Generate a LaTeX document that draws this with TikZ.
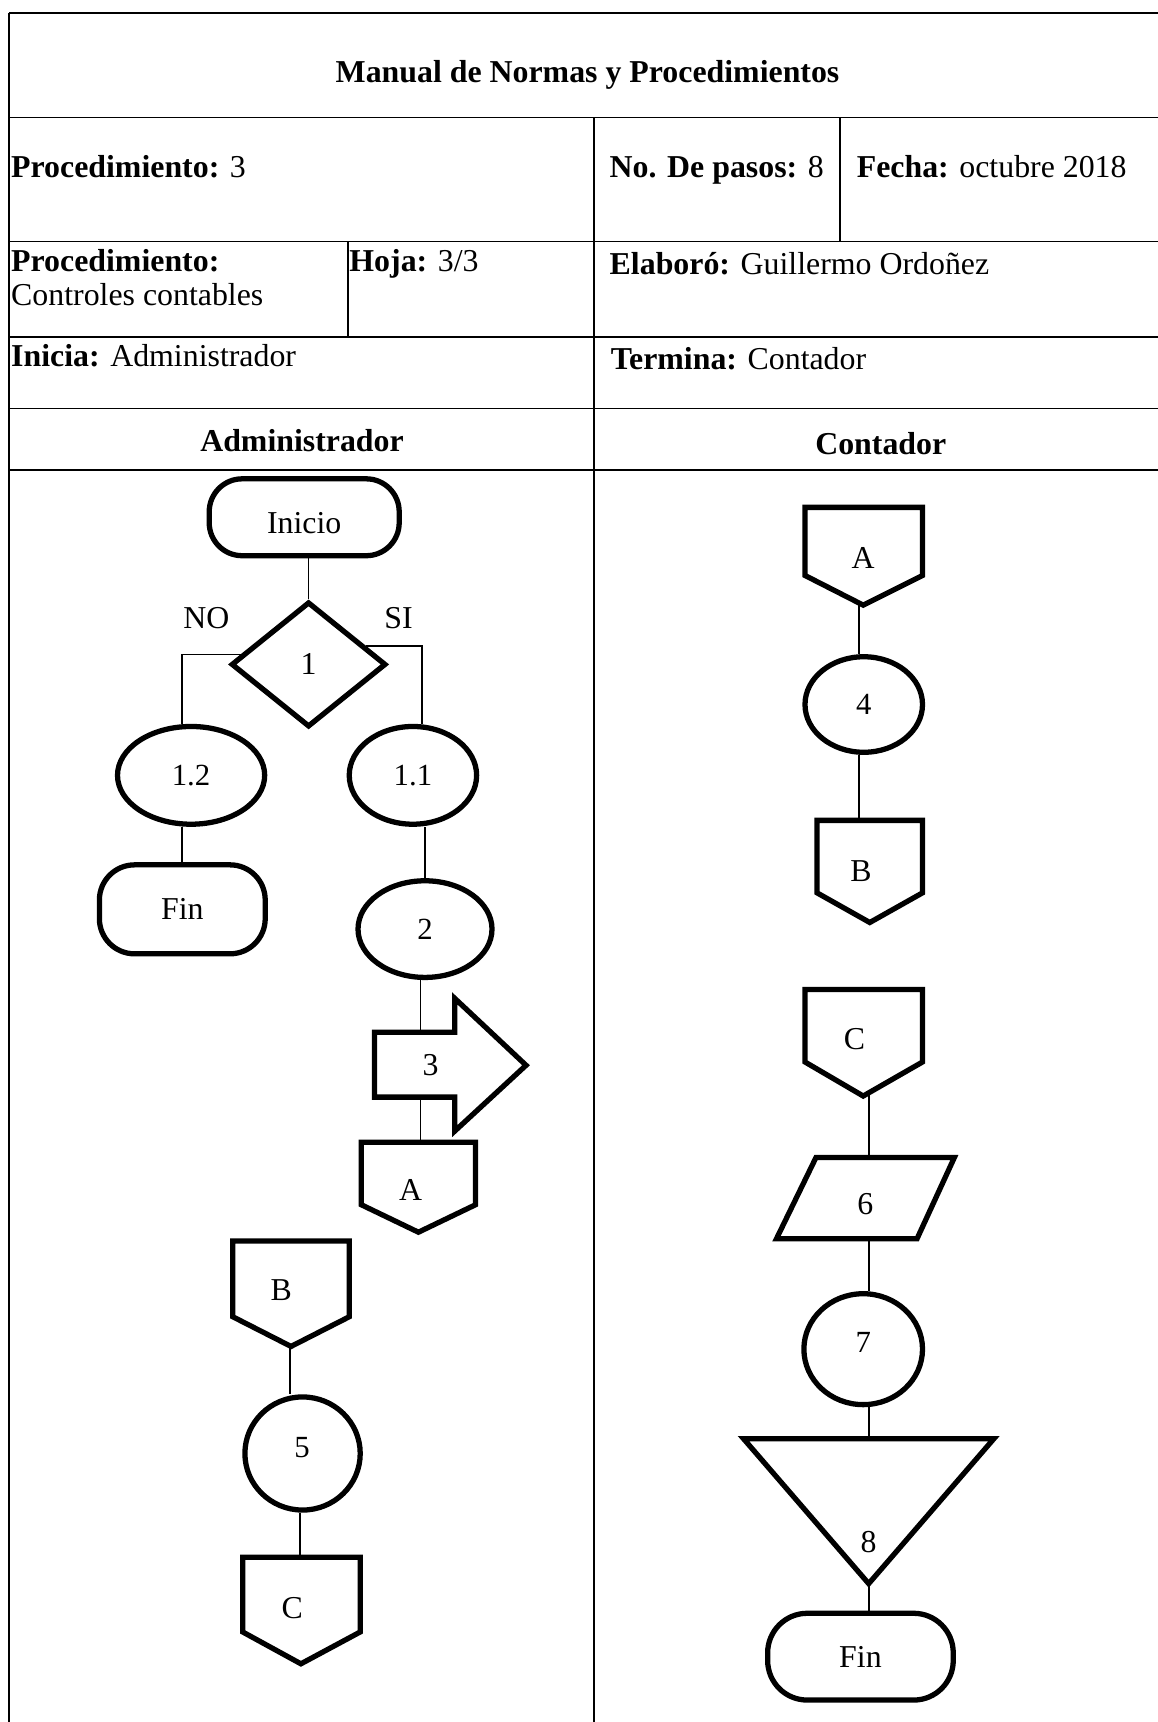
\documentclass[tikz,border=0pt]{standalone}
\usepackage{fontspec}
\setmainfont{Liberation Serif}
\usetikzlibrary{shapes.geometric,calc}
\begin{document}
\begin{tikzpicture}[x=1pt,y=-1pt,
  txt/.style={font=\fontsize{29}{32}\selectfont, inner sep=0pt},
  hd/.style={txt, anchor=base west},
  grid/.style={line width=1.6pt},
  shp/.style={draw, line width=4.8pt, fill=white, line join=miter},
  conn/.style={line width=1.5pt},
  ell/.style={shp, ellipse, inner sep=0pt, font=\fontsize{28}{30}\selectfont},
  term/.style={shp, rectangle, txt},
]
\useasboundingbox (0,0) rectangle (1054,1568);
% ---------- table ----------
\draw[grid] (8,12) -- (1054,12);
\draw[grid] (8,12) -- (8,1568);
\draw[grid] (8,107) -- (1054,107);
\draw[grid] (8,220) -- (1054,220);
\draw[grid] (8,307) -- (1054,307);
\draw[grid] (8,372) -- (1054,372);
\draw[grid] (8,428) -- (1054,428);
\draw[grid] (541,107) -- (541,1568);
\draw[grid] (765,107) -- (765,220);
\draw[grid] (317,220) -- (317,307);
% ---------- header texts ----------
\node[txt, anchor=base] (title) at (535,75) {\textbf{Manual de Normas y Procedimientos}};
\node[hd] (proc) at (10,162) {\textbf{Procedimiento:} 3};
\node[hd] (pasos) at (555,162) {\textbf{No. De pasos:} 8};
\node[hd] (fecha) at (780,162) {\textbf{Fecha:} octubre 2018};
\node[hd] (proc2) at (10,247) {\textbf{Procedimiento:}};
\node[hd] (ctrl) at (10,278) {Controles contables};
\node[hd] (hoja) at (318,247) {\textbf{Hoja:} 3/3};
\node[hd] (elab) at (555,250) {\textbf{Elaboró:} Guillermo Ordoñez};
\node[hd] (ini) at (10,334) {\textbf{Inicia:} Administrador};
\node[hd] (term) at (556,336) {\textbf{Termina:} Contador};
\node[txt, anchor=base] (ladm) at (275,411) {\textbf{Administrador}};
\node[txt, anchor=base] (lcont) at (802,414) {\textbf{Contador}};
% ---------- left lane nodes ----------
\node[term, rounded corners=30pt, minimum width=173pt, minimum height=70pt] (inicio) at (277,471) {};
\node[txt] (inicioT) at (277,476) {Inicio};
\node[shp, diamond, txt, minimum width=141pt, minimum height=114pt] (d1) at (281,605) {1};
\node[txt] (no) at (188,563) {NO};
\node[txt] (si) at (363,563) {SI};
\node[ell, minimum width=134pt, minimum height=89pt] (e12) at (174,706) {1.2};
\node[ell, minimum width=116pt, minimum height=89pt] (e11) at (376,706) {1.1};
\node[term, rounded corners=32pt, minimum width=151pt, minimum height=81pt] (fin1) at (166,828) {Fin};
\node[ell, minimum width=122pt, minimum height=88pt] (e2) at (387,846) {2};
\coordinate (A1top) at (383,1040);
\coordinate (B1tip) at (264,1226);
\coordinate (C1top) at (273,1418);
\node[ell, minimum width=105pt, minimum height=103pt] (e5) at (275.5,1323.5) {};
\node[ell, draw=none, fill=none] (e5T) at (275,1318) {5};
% left connectors
\draw[conn] (d1.north |- inicio.south) -- (d1.north);
\draw[conn] ($(d1.west)!0.15!(d1.north)$) -| ($(e12.north)+(-8,0)$);
\draw[conn] ($(d1.east)!0.28!(d1.north)$) -| ($(e11.north)+(8,0)$);
\draw[conn] (fin1.north |- e12.south) -- (fin1.north);
\draw[conn] (e11.south -| e2.north) -- (e2.north);
\draw[conn] (e2.south -| A1top) -- (A1top);
\draw[conn] (B1tip) -- (B1tip |- e5.north);
\draw[conn] (e5.south -| C1top) -- (C1top);
% arrow 3 (drawn over the connector)
\draw[shp] (341,940) -- (414,940) -- (414,909) -- (479,970) -- (414,1030) -- (414,999) -- (341,999) -- cycle;
\node[txt] (arr3) at (392,970) {3};
% off-page connectors left
\draw[shp] (329,1040) -- (433,1040) -- (433,1097) -- (381,1122) -- (329,1097) -- cycle;
\node[txt] (A1) at (374,1084) {A};
\draw[shp] (212,1130) -- (318,1130) -- (318,1199) -- (265,1226) -- (212,1199) -- cycle;
\node[txt] (B1) at (256,1175) {B};
\draw[shp] (221,1418) -- (328,1418) -- (328,1486) -- (274,1515) -- (221,1486) -- cycle;
\node[txt] (C1) at (266,1464) {C};
% ---------- right lane ----------
\coordinate (A2tip) at (782,549);
\coordinate (B2top) at (782,747);
\coordinate (C2tip) at (791,996);
\coordinate (p6top) at (791,1054);
\coordinate (p6bot) at (791,1128);
\coordinate (t8top) at (791,1310);
\coordinate (t8tip) at (791,1442);
\node[ell, minimum width=107pt, minimum height=87pt] (e4) at (786.5,641.5) {4};
\node[ell, minimum width=108pt, minimum height=101pt] (e7) at (786,1228.5) {};
\node[ell, draw=none, fill=none] (e7T) at (786,1222) {7};
\node[term, rounded corners=36pt, minimum width=169pt, minimum height=79pt] (fin2) at (783.5,1508.5) {Fin};
\draw[conn] (A2tip) -- (A2tip |- e4.north);
\draw[conn] (e4.south -| B2top) -- (B2top);
\draw[conn] (C2tip) -- (p6top);
\draw[conn] (p6bot) -- (p6bot |- e7.north);
\draw[conn] (e7.south -| t8top) -- (t8top);
\draw[conn] (t8tip) -- (t8tip |- fin2.north);
\draw[shp] (733,462) -- (840,462) -- (840,524) -- (786,551) -- (733,524) -- cycle;
\node[txt] (A2) at (786,508) {A};
\draw[shp] (744,747) -- (840,747) -- (840,813) -- (792,840) -- (744,813) -- cycle;
\node[txt] (B2) at (784,793) {B};
\draw[shp] (733,901) -- (840,901) -- (840,967) -- (786,998) -- (733,967) -- cycle;
\node[txt] (C2) at (778,946) {C};
\draw[shp] (743,1054) -- (869,1054) -- (835,1128) -- (707,1128) -- cycle;
\node[txt] (p6) at (788,1096) {6};
\draw[shp] (677,1310) -- (905,1310) -- (791,1442) -- cycle;
\node[txt] (t8) at (791,1404) {8};
\end{tikzpicture}
\end{document}
